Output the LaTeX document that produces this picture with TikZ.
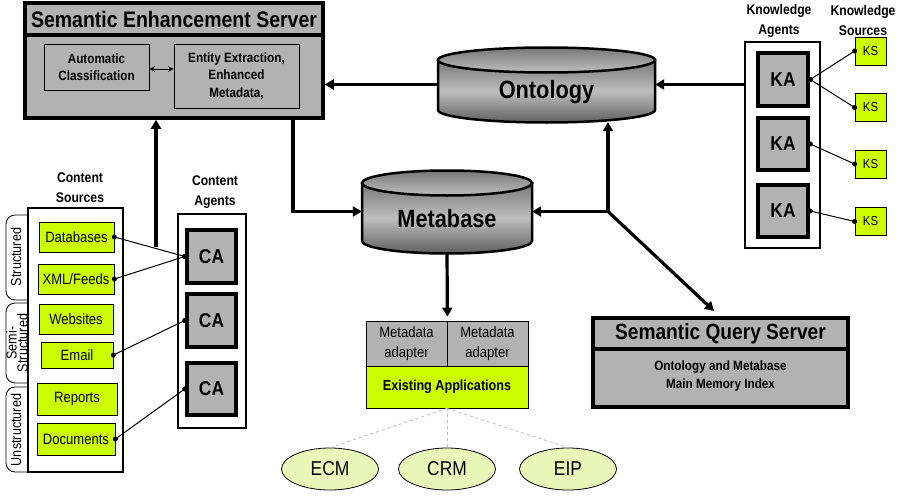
\documentclass[tikz,border=0pt]{standalone}
\usepackage{fontspec}
\setmainfont{Liberation Sans}[FakeStretch=0.87]
\usetikzlibrary{arrows.meta,calc,shapes.geometric}
\definecolor{mygray}{RGB}{178,178,178}
\definecolor{lime}{RGB}{204,255,0}
\definecolor{palelime}{RGB}{232,248,185}
\definecolor{cyldark}{RGB}{95,95,95}
\definecolor{cylmid}{RGB}{190,190,190}
\definecolor{cyltop}{RGB}{120,120,120}
\tikzset{
  arr/.style={line width=3.2pt,-{Triangle[length=9pt,width=10pt]}},
  bigbox/.style={draw,fill=mygray,line width=3.5pt,inner sep=0pt},
  thinbox/.style={draw,fill=mygray,line width=0.8pt,inner sep=0pt,align=center},
  greenbox/.style={draw,fill=lime,line width=0.8pt,inner sep=0pt,font=\fontsize{15}{17}\selectfont},
  agentbox/.style={draw,fill=mygray,line width=4.5pt,inner sep=0pt,font=\fontsize{20}{22}\selectfont\bfseries},
  holder/.style={draw,line width=2pt,inner sep=0pt},
  dotline/.style={line width=1pt,{Circle[length=5pt]}-{Circle[length=5pt]},shorten <=-2.5pt,shorten >=-2.5pt},
  bigtitle/.style={font=\fontsize{22.4}{26}\selectfont\bfseries},
  cyltext/.style={font=\fontsize{25}{28}\selectfont\bfseries},
  smallbold/.style={font=\fontsize{13.5}{17.5}\selectfont\bfseries,align=center},
  labelbold/.style={font=\fontsize{14}{20}\selectfont\bfseries,align=center},
  sidetext/.style={font=\fontsize{14.5}{11}\selectfont,rotate=90,align=center},
  appell/.style={draw,ellipse,fill=palelime,line width=0.8pt,minimum width=97pt,minimum height=42pt,inner sep=0pt,font=\fontsize{20}{22}\selectfont},
  dashline/.style={dashed,draw=gray!55,line width=0.8pt},
  bracket/.style={line width=0.8pt,rounded corners=9pt}
}
\begin{document}
\begin{tikzpicture}[x=1pt,y=-1pt]
\useasboundingbox (0,0) rectangle (899,495);

% ---------- Semantic Enhancement Server ----------
\node[bigbox,minimum width=298pt,minimum height=115pt] (ses) at (174,60.5) {};
\node[bigbox,minimum width=298pt,minimum height=32pt,bigtitle] (sestitle) at (174,19) {Semantic Enhancement Server};
\node[thinbox,minimum width=105pt,minimum height=46pt,smallbold] (autoc) at (96.5,67) {Automatic\\Classification};
\node[thinbox,minimum width=125pt,minimum height=64pt,smallbold] (entity) at (236.5,76) {Entity Extraction,\\Enhanced\\Metadata,};
\draw[line width=0.9pt,{Stealth[length=5.5pt,width=5.5pt]}-{Stealth[length=5.5pt,width=5.5pt]}] ([yshift=-2pt]autoc.east) -- ([yshift=-2pt]autoc.east -| entity.west);

% ---------- Ontology cylinder ----------
\shade[top color=cyltop,bottom color=cyldark,middle color=cylmid,draw=black,line width=2.5pt]
  (438,60) -- (438,110) arc[start angle=180,end angle=0,x radius=108.5,y radius=12.5] -- (655,60) -- cycle;
\shade[top color=cyltop,bottom color=cylmid,draw=black,line width=2.5pt] (546.5,60) ellipse[x radius=108.5,y radius=12.5];
\node[minimum width=217pt,minimum height=75pt,inner sep=0pt] (onto) at (546.5,84.5) {};
\node[cyltext] (ontotext) at (546.5,92) {Ontology};

% ---------- Metabase cylinder ----------
\shade[top color=cyltop,bottom color=cyldark,middle color=cylmid,draw=black,line width=2.5pt]
  (362,183) -- (362,241) arc[start angle=180,end angle=0,x radius=85,y radius=12.5] -- (532,183) -- cycle;
\shade[top color=cyltop,bottom color=cylmid,draw=black,line width=2.5pt] (447,183) ellipse[x radius=85,y radius=12.5];
\node[minimum width=170pt,minimum height=83pt,inner sep=0pt] (meta) at (447,211.5) {};
\node[cyltext] (metatext) at (447,219) {Metabase};

% ---------- Knowledge agents / sources ----------
\node[labelbold] (kalabel) at (779,20.5) {Knowledge\\Agents};
\node[labelbold] (kslabel) at (863,20.5) {Knowledge\\Sources};
\node[holder,minimum width=75pt,minimum height=206pt] (kabox) at (782.5,145) {};
\node[agentbox,minimum width=50pt,minimum height=53pt] (ka1) at (783,79.5) {KA};
\node[agentbox,minimum width=50pt,minimum height=52pt] (ka2) at (783,144) {KA};
\node[agentbox,minimum width=50pt,minimum height=52pt] (ka3) at (783,211) {KA};
\node[greenbox,minimum width=31pt,minimum height=28pt,font=\fontsize{13}{15}\selectfont] (ks1) at (870.5,51) {KS};
\node[greenbox,minimum width=31pt,minimum height=28pt,font=\fontsize{13}{15}\selectfont] (ks2) at (870.5,107.5) {KS};
\node[greenbox,minimum width=31pt,minimum height=28pt,font=\fontsize{13}{15}\selectfont] (ks3) at (870.5,164) {KS};
\node[greenbox,minimum width=31pt,minimum height=28pt,font=\fontsize{13}{15}\selectfont] (ks4) at (870.5,221.5) {KS};
\draw[dotline] (ka1.east) -- (ks1.west);
\draw[dotline] (ka1.east) -- (ks2.west);
\draw[dotline] (ka2.east) -- (ks3.west);
\draw[dotline] (ka3.east) -- (ks4.west);

% ---------- Content sources ----------
\node[labelbold] (cslabel) at (80,188) {Content\\Sources};
\node[labelbold] (calabel) at (215,192) {Content\\Agents};
\node[draw,line width=2.5pt,minimum width=95pt,minimum height=264pt,inner sep=0pt] (cs) at (75.5,340) {};
\node[greenbox,minimum width=75pt,minimum height=30pt] (db) at (76.5,237) {Databases};
\node[greenbox,minimum width=76pt,minimum height=30pt] (xml) at (76,279) {XML/Feeds};
\node[greenbox,minimum width=74pt,minimum height=30pt] (web) at (76,319) {Websites};
\node[greenbox,minimum width=72pt,minimum height=26pt] (email) at (77,355) {Email};
\node[greenbox,minimum width=80pt,minimum height=32pt] (rep) at (77,399) {Reports};
\node[greenbox,minimum width=78pt,minimum height=32pt] (doc) at (76,439) {Documents};

\draw[bracket] (27,215) -- (6,215) -- (6,300) -- (27,300);
\draw[bracket] (27,303) -- (6,303) -- (6,383) -- (27,383);
\draw[bracket] (27,387) -- (6,387) -- (6,472) -- (27,472);
\node[sidetext] (st1) at (16,257) {Structured};
\node[sidetext] (st2) at (17,343) {Semi-\\Structured};
\node[sidetext] (st3) at (16,430) {Unstructured};

\node[holder,minimum width=68pt,minimum height=214pt] (cabox) at (212,321) {};
\node[agentbox,minimum width=49pt,minimum height=53pt] (ca1) at (211.5,256.5) {CA};
\node[agentbox,minimum width=49pt,minimum height=53pt] (ca2) at (211.5,320.5) {CA};
\node[agentbox,minimum width=49pt,minimum height=52pt] (ca3) at (211.5,389) {CA};
\draw[dotline] (db.east) -- (ca1.west);
\draw[dotline] (xml.east) -- (ca1.west);
\draw[dotline] (email.east) -- (ca2.west);
\draw[dotline] (doc.east) -- (ca3.west);

% ---------- Existing applications ----------
\node[thinbox,minimum width=81pt,minimum height=45pt,font=\fontsize{15}{20}\selectfont] (mda1) at (406.5,343.5) {Metadata\\adapter};
\node[thinbox,minimum width=81pt,minimum height=45pt,font=\fontsize{15}{20}\selectfont] (mda2) at (487.5,343.5) {Metadata\\adapter};
\node[greenbox,minimum width=162pt,minimum height=42pt,font=\fontsize{14.5}{17}\selectfont\bfseries] (ea) at (447,387) {Existing Applications};
\node[appell] (ecm) at (330,469) {ECM};
\node[appell] (crm) at (447,469) {CRM};
\node[appell] (eip) at (568,469) {EIP};
\draw[dashline] (ea.south) -- (ecm.north);
\draw[dashline] (ea.south) -- (crm.north);
\draw[dashline] (ea.south) -- (eip.north);

% ---------- Semantic Query Server ----------
\node[bigbox,minimum width=255pt,minimum height=89pt] (sqs) at (720.5,362.5) {};
\node[bigbox,minimum width=255pt,minimum height=31pt,font=\fontsize{22}{26}\selectfont\bfseries] (sqstitle) at (720.5,333.5) {Semantic Query Server};
\node[smallbold,font=\fontsize{13.5}{18}\selectfont\bfseries] (sqsbody) at (720.5,376) {Ontology and Metabase\\Main Memory Index};

% ---------- Connectors ----------
\coordinate (j1) at (293,0);
\coordinate (j2) at (608,211.5);
\coordinate (c1) at (156,247);
\coordinate (sqtip) at (714,311);
\draw[arr] (onto.west) -- (onto.west -| ses.east);
\draw[arr] (onto.east -| kabox.west) -- (onto.east);
\draw[arr] (ses.south -| j1) |- (meta.west);
\draw[arr] (j2) -- (j2 |- onto.south);
\draw[arr] (j2) -- (meta.east);
\draw[arr] (j2) -- (sqtip);
\draw[arr] (c1) -- (c1 |- ses.south);
\draw[arr] (meta.south) -- ([yshift=4pt]mda1.north east);
\end{tikzpicture}
\end{document}
